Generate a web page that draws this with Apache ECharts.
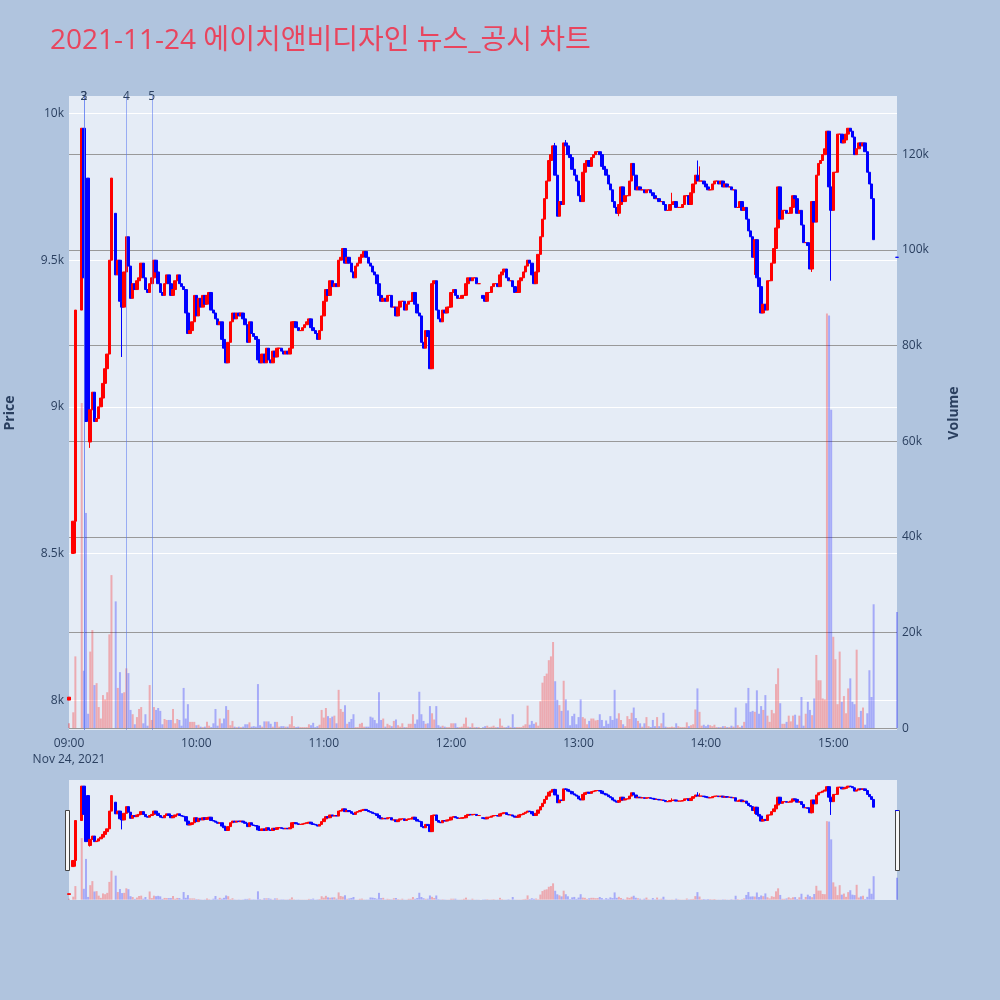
<!DOCTYPE html>
<html><head><meta charset="utf-8">
<script src="https://cdn.jsdelivr.net/npm/echarts@6/dist/echarts.min.js"></script>
<style>html,body{margin:0;padding:0;background:#b0c4de;}#c{width:1000px;height:1000px;}</style>
</head><body><div id="c"></div>
<script>
const titleText = '2021-11-24 에이치앤비디자인 뉴스_공시 차트';
const dateLabel = 'Nov 24, 2021';
const startHour = 9;
// 1-minute closes from 09:00 (index 0) to 15:30 (index 390); null = no trade
const closes = [
8010,null,8610,9330,null,null,9950,9440,8950,8960,
8990,9050,8950,8960,9000,9030,9080,9130,9180,9500,
9780,null,9450,9500,9360,9340,9460,9580,9480,9370,
9420,9400,9430,9440,9490,9440,9400,9390,9420,9440,
9500,9460,9420,9390,9380,9420,9450,9420,9380,9400,
9430,9450,9420,9410,9400,9320,9250,9260,9290,9380,
9310,9370,9340,9380,9350,9380,9390,9330,9320,9300,
9280,9290,9230,9200,9150,9220,9290,9320,9300,9320,
9310,9320,9300,9280,9220,9290,9250,9240,9230,9160,
9150,9180,9150,9200,9160,9150,9190,9170,9200,9200,
9190,9180,9190,9180,9200,9290,9290,9270,9260,9260,
9270,9280,9290,9300,9270,9260,9250,9230,9260,9310,
9360,9400,9380,9430,9410,9420,9410,9500,9510,9540,
9490,9510,9490,9460,9440,9480,9490,9510,9520,9530,
9510,9490,9480,9460,9450,9420,9380,9360,9370,9360,
9380,9380,9340,9340,9310,9340,9360,9360,9330,9350,
9360,9360,9390,9350,9320,9310,9220,9200,9260,9240,
9130,9420,9430,9330,9300,9290,9330,9320,9340,9340,
9390,9400,9380,9370,9370,9380,9380,9420,9440,9430,
9440,9440,9420,9420,null,9370,9360,9390,9390,9410,
9420,9420,9410,9450,9460,9470,9440,9430,9430,9410,
9390,9390,9430,9440,9460,9480,9500,9490,9450,9420,
9460,9520,9580,9640,9710,9770,9840,9860,9890,9790,
9650,9700,9690,9900,9890,9860,9850,9810,9790,9770,
9720,9700,9800,9830,9840,9820,9850,9860,9870,9870,
9860,9820,9810,9790,9760,9740,9700,9680,9660,9690,
9750,9700,9720,9720,9770,9830,9790,9740,9750,9740,
9740,9730,9740,9740,9730,9720,9710,9710,9700,9700,
9690,9670,9670,9690,9690,9700,9680,9680,9680,9690,
9720,9720,9690,9730,9760,9790,9770,9770,9770,9760,
9750,9740,9740,9760,9770,9770,9760,9770,9750,9760,
9750,9750,9740,9740,9680,9680,9700,9670,9680,9640,
9600,9580,9510,9570,9440,9410,9320,9350,9330,9430,
9430,9490,9540,9610,9750,9640,9670,9670,9660,9660,
9680,9720,9710,9660,9670,9620,9560,9560,9550,9470,
9700,9630,9790,9830,9840,9860,9880,9940,9750,9670,
9800,9800,9930,9930,9900,9910,9930,9950,9940,9920,
9860,9880,9900,9890,9900,9870,9800,9760,9710,9570,
null,null,null,null,null,null,null,null,null,null,
9510];
const openOverrides = {0: 8000, 2: 8500, 9: 9780, 10: 8880, 22: 9660, 195: 9380, 390: 9510};
const highOverrides = {8: 9940, 229: 9900, 234: 9910, 284: 9730, 296: 9840, 297: 9820};
const lowOverrides = {3: 8500, 10: 8860, 25: 9170, 259: 9650, 323: 9450, 350: 9460, 359: 9430};
const volumes = [
1000,null,3300,15000,null,null,68000,12000,45000,3000,
16000,20500,9000,9400,4400,2000,6900,6000,7500,19600,
32000,null,26500,8400,11700,7300,7500,12500,11500,3800,
2900,800,2300,4000,4400,1000,2900,500,9000,1700,
4400,3800,4200,3600,800,1900,1700,1700,1700,4000,
1000,1900,1700,500,8400,2000,5000,1300,1300,1300,
600,700,300,200,300,1300,500,200,1000,4000,
500,2000,1000,2000,4600,3800,600,1500,300,200,
300,200,300,800,800,1200,300,400,300,9200,
600,300,1400,1400,1400,900,300,1300,1300,300,
400,400,300,300,800,2500,400,200,300,200,
200,200,200,800,600,1100,200,400,700,3800,
2200,4200,2500,2100,2400,2600,1000,8000,4000,3400,
4800,900,1300,1900,2900,200,200,900,1100,300,
300,300,2400,2200,1700,1000,7500,1700,2000,300,
900,600,400,1500,1800,600,300,1000,200,200,
900,900,2900,900,1800,7600,2900,1500,900,1000,
4600,3100,1800,4600,600,300,500,300,200,200,
1000,1000,1000,200,200,300,900,2200,300,200,
1000,200,200,200,null,200,400,500,200,300,
500,200,200,2000,500,200,200,500,200,2900,
200,200,200,200,500,800,4700,700,1500,900,
1200,500,5600,9500,10900,11400,14200,15000,18000,9800,
5900,4800,3600,9900,6000,3700,600,2500,3000,800,
2300,6000,2300,2000,800,1500,2000,2000,1600,1700,
2900,1700,400,1600,900,2500,1700,8000,2000,3100,
1700,800,400,2500,1900,3200,4300,2100,1500,1000,
300,1000,2300,400,200,1700,400,2300,400,1000,
3200,300,200,200,300,200,1000,400,200,200,
200,1200,400,600,800,3900,8300,3400,500,700,
400,700,600,400,700,200,200,200,400,400,
200,200,500,300,4300,600,200,500,1300,5200,
8400,3400,3600,3400,7900,3000,4600,3800,6900,2600,
1300,3800,3100,9200,12500,5200,900,900,1300,2600,
1400,2600,2800,700,2600,6500,500,3000,5500,3800,
2700,6200,15300,10000,10000,6200,6000,86700,86300,66600,
19100,14400,5000,16000,5500,6700,3100,8300,10400,5500,
5000,16400,2300,3600,4300,700,3100,12100,6500,25900,
null,null,null,null,null,null,null,null,null,null,
24300];
const newsMarks = [{label: '3', minute: 7}, {label: '2', minute: 7}, {label: '4', minute: 27}, {label: '5', minute: 39}];
const priceTicks = [8000, 8500, 9000, 9500, 10000];
const volumeTicks = [0, 20000, 40000, 60000, 80000, 100000, 120000];

const pad = n => (n < 10 ? '0' : '') + n;
const times = closes.map((_, i) => pad(startHour + Math.floor(i / 60)) + ':' + pad(i % 60));

const candles = [], volBars = [];
let prevClose = null;
closes.forEach((c, i) => {
  if (c == null) { candles.push('-'); volBars.push('-'); return; }
  const o = openOverrides[i] != null ? openOverrides[i] : (prevClose != null ? prevClose : c);
  let lo = Math.min(o, c), hi = Math.max(o, c);
  if (lowOverrides[i] != null) lo = Math.min(lo, lowOverrides[i]);
  if (highOverrides[i] != null) hi = Math.max(hi, highOverrides[i]);
  candles.push([o, c, lo, hi]);
  let up = c > o ? true : c < o ? false : (prevClose == null || c >= prevClose);
  volBars.push({value: volumes[i], itemStyle: {color: up ? 'rgba(255,0,0,0.28)' : 'rgba(0,0,255,0.28)'}});
  prevClose = c;
});

const FONT = '"Open Sans", "Noto Sans CJK KR", sans-serif';
const TXT = '#2a3f5f';
const PMIN = 7898, PMAX = 10060, VMIN = -400, VMAX = 132200;

const chart = echarts.init(document.getElementById('c'), null, {renderer: 'canvas'});
chart.setOption({
  animation: false,
  backgroundColor: '#b0c4de',
  title: {text: titleText, left: 45, top: 22, textStyle: {fontFamily: FONT, fontSize: 28, fontWeight: 'normal', color: '#e8455e'}},
  grid: [
    {left: 69, right: 103, top: 96, bottom: 270, show: true, backgroundColor: '#e5ecf6', borderWidth: 0, containLabel: false, outerBoundsMode: 'none'},
    {left: 69, right: 103, top: 780, bottom: 100, show: true, backgroundColor: '#e5ecf6', borderWidth: 0, containLabel: false, outerBoundsMode: 'none'}
  ],
  xAxis: [
    {type: 'category', gridIndex: 0, data: times, boundaryGap: false,
     axisLine: {show: false}, axisTick: {show: false}, splitLine: {show: false},
     axisLabel: {interval: (idx) => idx % 60 === 0, margin: 6, color: TXT, fontFamily: FONT, fontSize: 12, lineHeight: 16,
       formatter: (v, idx) => idx === 0 ? v + '\n' + dateLabel : v}},
    {type: 'category', gridIndex: 1, data: times, boundaryGap: false, show: false}
  ],
  yAxis: [
    {type: 'value', gridIndex: 0, min: PMIN, max: PMAX, position: 'left',
     name: 'Price', nameLocation: 'middle', nameGap: 52, nameTextStyle: {color: TXT, fontFamily: FONT, fontSize: 14, fontWeight: 'bold'},
     axisLine: {show: false},
     axisTick: {show: false, customValues: priceTicks},
     axisLabel: {customValues: priceTicks, margin: 5, color: TXT, fontFamily: FONT, fontSize: 12, formatter: v => (v / 1000) + 'k'},
     splitLine: {show: true, lineStyle: {color: '#ffffff', width: 1}}},
    {type: 'value', gridIndex: 0, min: VMIN, max: VMAX, position: 'right',
     name: 'Volume', nameLocation: 'middle', nameGap: 50, nameTextStyle: {color: TXT, fontFamily: FONT, fontSize: 14, fontWeight: 'bold'},
     axisLine: {show: false},
     axisTick: {show: false, customValues: volumeTicks},
     axisLabel: {customValues: volumeTicks, margin: 5, color: TXT, fontFamily: FONT, fontSize: 12, formatter: v => v === 0 ? '0' : (v / 1000) + 'k'},
     splitLine: {show: true, lineStyle: {color: '#999999', width: 1}}},
    {type: 'value', gridIndex: 1, min: PMIN, max: PMAX, show: false, splitLine: {show: false}},
    {type: 'value', gridIndex: 1, min: VMIN, max: VMAX, show: false, splitLine: {show: false}}
  ],
  series: [
    {type: 'bar', xAxisIndex: 0, yAxisIndex: 1, data: volBars, barWidth: 2, z: 1, silent: true},
    {type: 'candlestick', xAxisIndex: 0, yAxisIndex: 0, data: candles, barWidth: 3, z: 3,
     itemStyle: {color: '#ff0000', color0: '#0000ff', borderColor: '#ff0000', borderColor0: '#0000ff', borderWidth: 1},
     markLine: {silent: true, symbol: ['none', 'none'], animation: false,
       lineStyle: {color: 'rgba(90,120,240,0.55)', width: 1, type: 'solid'},
       label: {show: true, position: 'end', distance: -7, color: TXT, fontFamily: FONT, fontSize: 12},
       data: newsMarks.map(n => ({xAxis: times[n.minute], label: {formatter: n.label}}))}},
    {type: 'bar', xAxisIndex: 1, yAxisIndex: 3, data: volBars, barWidth: 2, z: 1, silent: true},
    {type: 'candlestick', xAxisIndex: 1, yAxisIndex: 2, data: candles, barWidth: 3, z: 3, silent: true,
     itemStyle: {color: '#ff0000', color0: '#0000ff', borderColor: '#ff0000', borderColor0: '#0000ff', borderWidth: 1}}
  ],
  graphic: [
    {type: 'rect', left: 65, top: 810, shape: {width: 4, height: 60}, style: {fill: '#f8f8f8', stroke: '#444', lineWidth: 1}},
    {type: 'rect', left: 895, top: 810, shape: {width: 4, height: 60}, style: {fill: '#f8f8f8', stroke: '#444', lineWidth: 1}}
  ]
});
</script></body></html>
